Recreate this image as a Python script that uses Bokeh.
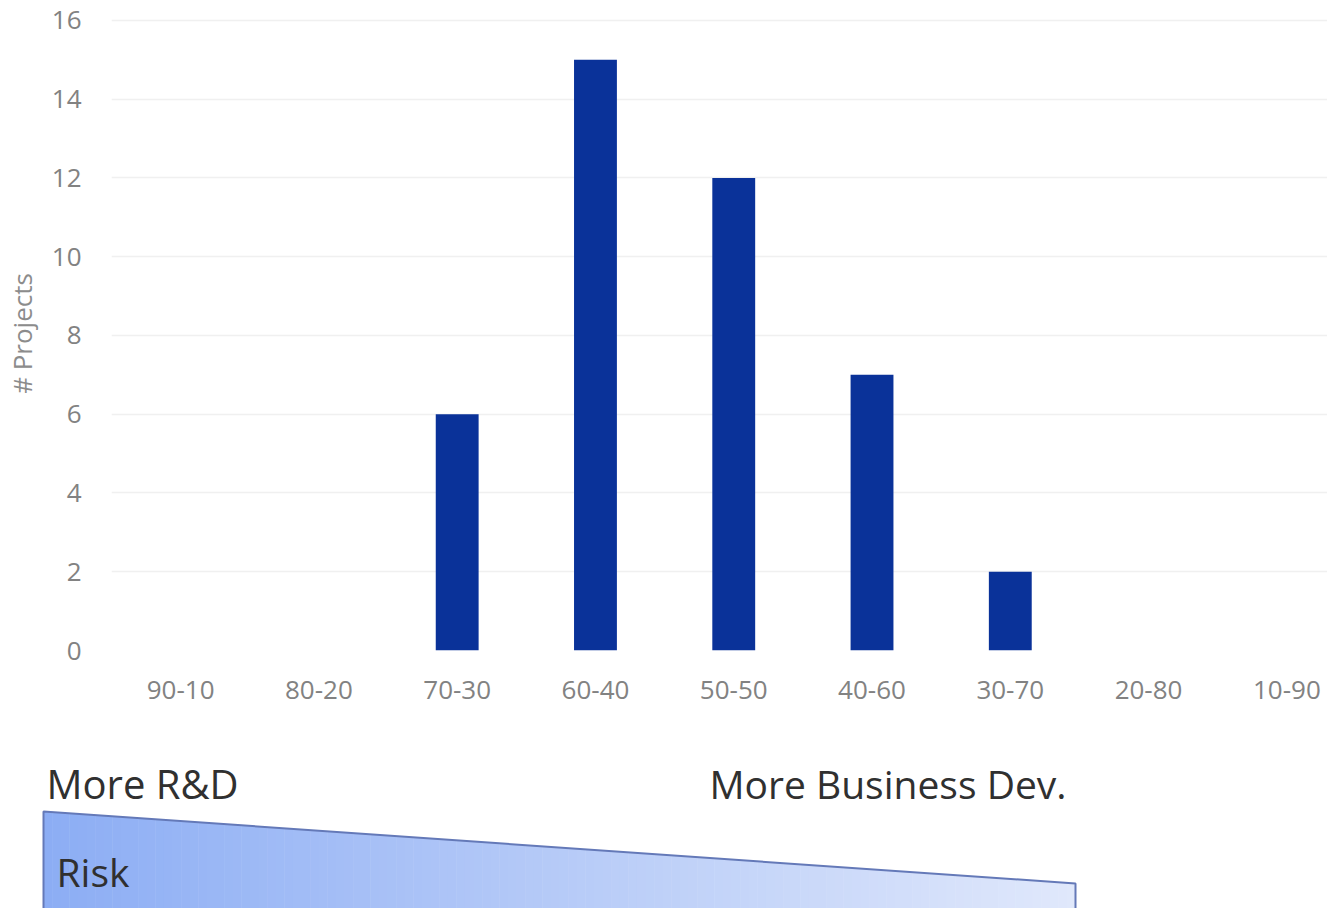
from bokeh.plotting import figure
from bokeh.layouts import column
from bokeh.models import Range1d, FixedTicker, Label, ColumnDataSource
from bokeh.embed import file_html
from bokeh.resources import INLINE

categories = ["90-10", "80-20", "70-30", "60-40", "50-50", "40-60", "30-70", "20-80", "10-90"]
projects = [0, 0, 6, 15, 12, 7, 2, 0, 0]
y_ticks = [0, 2, 4, 6, 8, 10, 12, 14, 16]

FONT = "Open Sans"
W = 1327

xs = list(range(len(categories)))
src = ColumnDataSource(dict(x=xs, top=projects))

p = figure(width=W, height=720, output_backend="svg", toolbar_location=None,
           x_range=Range1d(-0.5, 8.294), y_range=Range1d(0, 16.1),
           min_border_left=109, min_border_right=0, min_border_top=16, min_border_bottom=70)
p.vbar(x="x", top="top", width=0.31, source=src, fill_color="#0a3299", line_color=None)
p.outline_line_color = None
p.xgrid.grid_line_color = None
p.ygrid.grid_line_color = "#f0f0f0"
p.ygrid.grid_line_width = 1.5
p.xaxis.ticker = FixedTicker(ticks=xs)
p.xaxis.major_label_overrides = {i: c for i, c in enumerate(categories)}
p.yaxis.ticker = FixedTicker(ticks=y_ticks)
for ax in (p.xaxis, p.yaxis):
    ax.axis_line_color = None
    ax.major_tick_line_color = None
    ax.minor_tick_line_color = None
    ax.major_label_text_font = FONT
    ax.major_label_text_font_size = "26px"
    ax.major_label_text_color = "#828282"
p.xaxis.major_label_standoff = 24
p.yaxis.major_label_standoff = 24
p.yaxis.axis_label = "# Projects"
p.yaxis.axis_label_text_font = FONT
p.yaxis.axis_label_text_font_size = "26px"
p.yaxis.axis_label_text_font_style = "normal"
p.yaxis.axis_label_text_color = "#8c8c8c"
p.yaxis.axis_label_standoff = 9

# lower annotation panel, in page pixel coordinates
q = figure(width=W, height=188, output_backend="svg", toolbar_location=None,
           x_range=Range1d(0, W), y_range=Range1d(908, 720),
           min_border=0)
try:
    p.frame_align = False
    q.frame_align = False
except Exception:
    pass
q.axis.visible = False
q.grid.visible = False
q.outline_line_color = None

x0, x1 = 43, 1075
yt0, yt1 = 811, 883
ybot = 912
n = 120
c0 = (0x8c, 0xad, 0xf4)
c1 = (0xe0, 0xe8, 0xfb)
pxs, pys, cols = [], [], []
for i in range(n):
    a = i / n
    b = (i + 1) / n
    xa = x0 + (x1 - x0) * a
    xb = x0 + (x1 - x0) * b
    ya = yt0 + (yt1 - yt0) * a
    yb = yt0 + (yt1 - yt0) * b
    pxs.append([xa, xb + 0.5, xb + 0.5, xa])
    pys.append([ya, yb, ybot, ybot])
    m = (a + b) / 2
    cols.append("#%02x%02x%02x" % tuple(int(round(c0[k] + (c1[k] - c0[k]) * m)) for k in range(3)))
q.patches(pxs, pys, fill_color=cols, line_color=None)
q.line([x0, x0, x1, x1], [ybot, yt0, yt1, ybot], line_color="#6479b8", line_width=2)

for txt, x, y, fs in [("More R&D", 46, 783, "40px"), ("More Business Dev.", 709, 783, "39px"), ("Risk", 56, 871, "39px")]:
    q.add_layout(Label(x=x, y=y, text=txt, text_font=FONT, text_font_size=fs,
                       text_color="#303030", text_baseline="middle", text_align="left"))

layout = column(p, q, spacing=0)
open("out.html", "w").write(file_html(layout, INLINE))
